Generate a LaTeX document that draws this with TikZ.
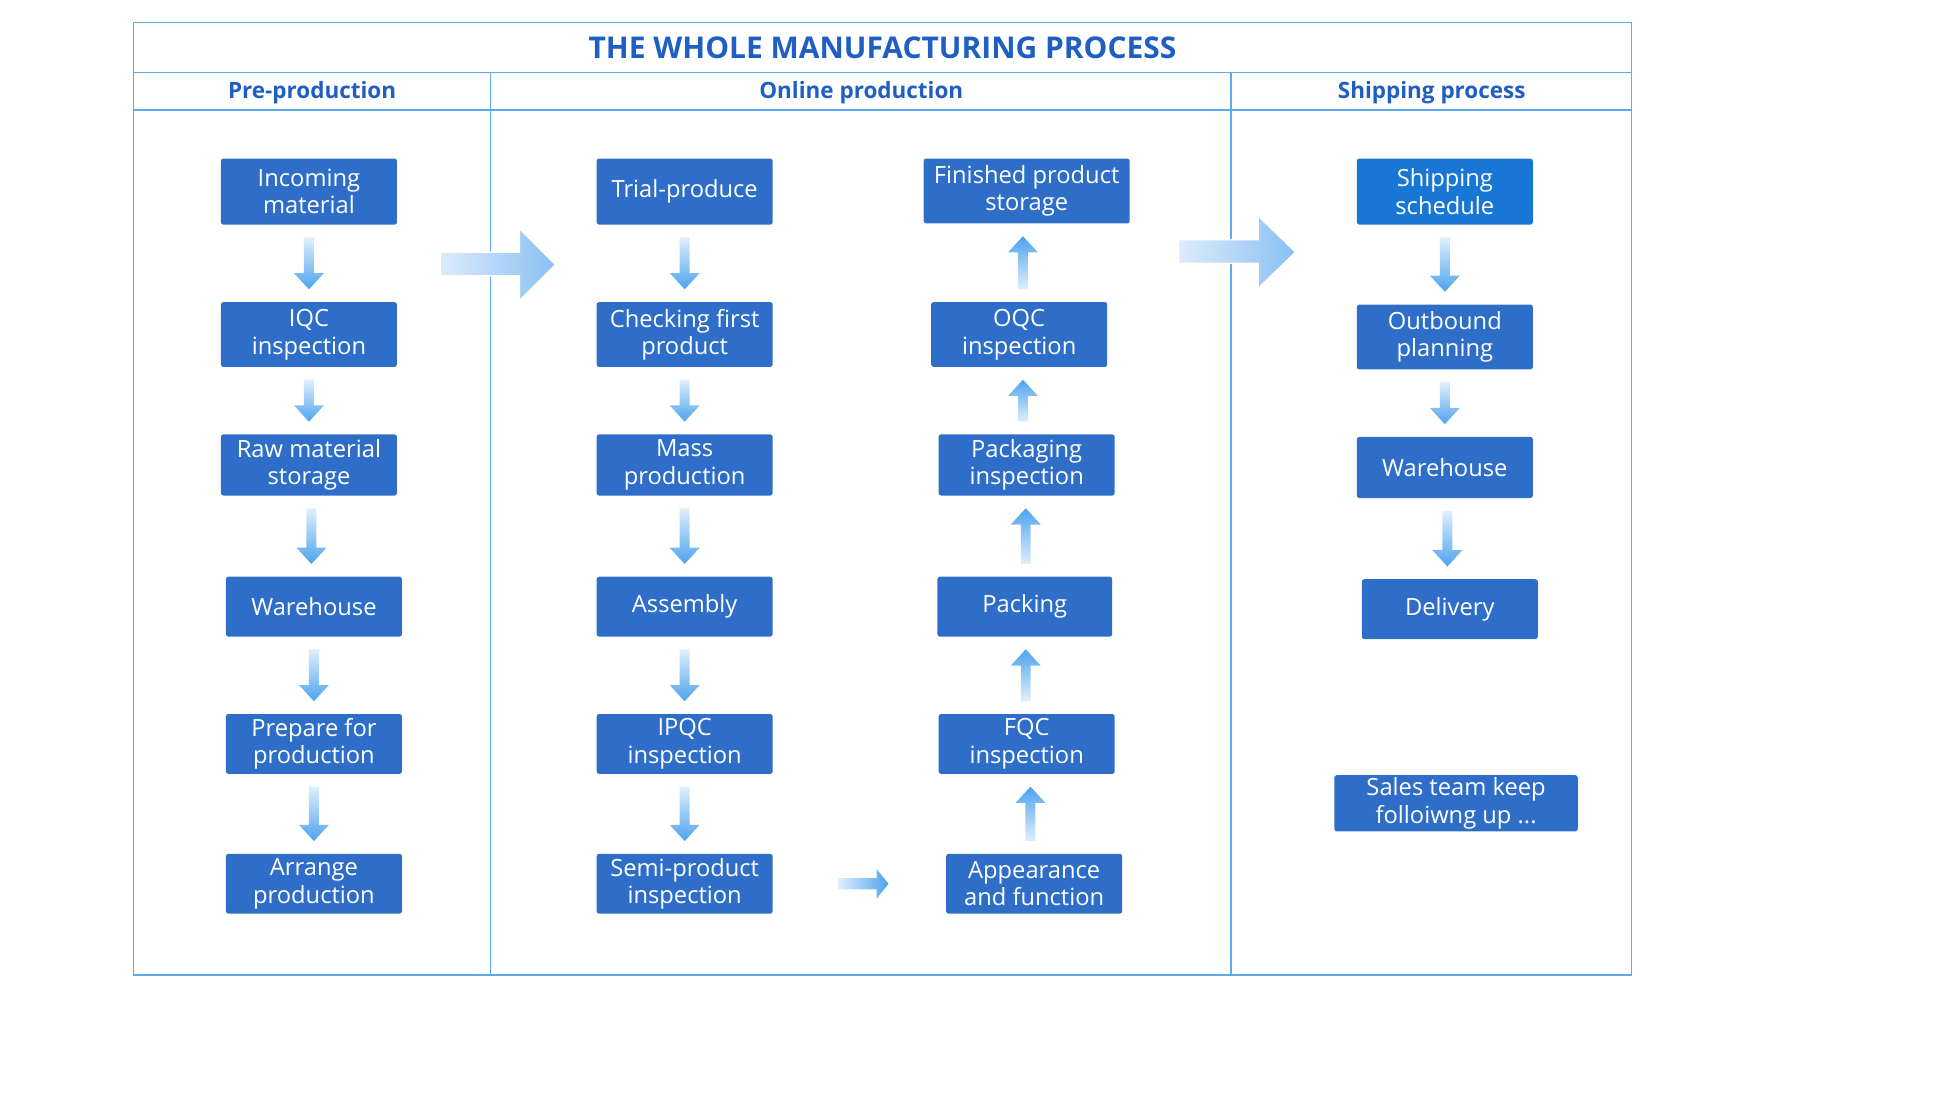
\documentclass[tikz,border=0pt]{standalone}
\usepackage{fontspec}
\setmainfont{Open Sans}
\usetikzlibrary{calc}
\definecolor{boxblue}{HTML}{2E6EC8}
\definecolor{shipblue}{HTML}{1876D4}
\definecolor{framec}{HTML}{5DAAF0}
\definecolor{titlec}{HTML}{1F5EC2}
\definecolor{arlight}{HTML}{E0EFFD}
\definecolor{ardark}{HTML}{4DA3EE}
\definecolor{biglight}{HTML}{DDECFB}
\definecolor{bigdark}{HTML}{88C0F3}
\tikzset{
  box/.style={fill=boxblue, text=white, rounded corners=2pt, minimum width=141pt,
    minimum height=48pt, inner sep=0pt, align=center, font=\fontsize{19}{22}\selectfont},
  frameline/.style={draw=framec, line width=1.2pt},
  titletext/.style={text=titlec, font=\fontsize{24}{27}\selectfont\bfseries},
  headtext/.style={text=titlec, font=\fontsize{18}{21}\selectfont\bfseries},
  bigarrow/.style={left color=biglight, right color=bigdark, draw=white, line width=1.2pt}
}
\newcommand\flowdown[2]{%
  \shade[top color=arlight, bottom color=ardark] let \p1=(#1.south), \p2=(#2.north),
    \p3=($(#1.south)!0.5!(#2.north)$) in
    (\x3-4pt,\y1-10pt) -- (\x3+4pt,\y1-10pt) -- (\x3+4pt,\y2+23pt) -- (\x3+12pt,\y2+23pt)
    -- (\x3,\y2+10pt) -- (\x3-12pt,\y2+23pt) -- (\x3-4pt,\y2+23pt) -- cycle;}
\newcommand\flowup[2]{%
  \shade[top color=ardark, bottom color=arlight] let \p1=(#1.north), \p2=(#2.south),
    \p3=($(#1.north)!0.5!(#2.south)$) in
    (\x3-4pt,\y1+10pt) -- (\x3+4pt,\y1+10pt) -- (\x3+4pt,\y2-23pt) -- (\x3+12pt,\y2-23pt)
    -- (\x3,\y2-10pt) -- (\x3-12pt,\y2-23pt) -- (\x3-4pt,\y2-23pt) -- cycle;}
\begin{document}
\begin{tikzpicture}[x=1pt, y=-1pt]
\useasboundingbox (0,0) rectangle (1567,881);
% frame
\draw[frameline] (107,18) rectangle (1307,781);
\draw[frameline] (107,58) -- (1307,58);
\draw[frameline] (107,88) -- (1307,88);
\draw[frameline] (393,58) -- (393,781);
\draw[frameline] (986,58) -- (986,781);
\node[titletext] (title) at (707,38) {THE WHOLE MANUFACTURING PROCESS};
\node[headtext] (h1) at (250,74.5) {Pre-production};
\node[headtext] (h2) at (690,74.5) {Online production};
\node[headtext] (h3) at (1147,74.5) {Shipping process};
% column 1
\node[box, minimum height=53pt] (inc) at (247.5,153.5) {Incoming\\material};
\node[box, minimum height=52pt] (iqc) at (247.5,268) {IQC\\inspection};
\node[box, minimum height=49pt] (raw) at (247.5,372.5) {Raw material\\storage};
\node[box] (wh1) at (251.5,486) {Warehouse};
\node[box] (prep) at (251.5,596) {Prepare for\\production};
\node[box] (arr) at (251.5,708) {Arrange\\production};
% column 2
\node[box, minimum height=53pt] (trial) at (548.5,153.5) {Trial-produce};
\node[box, minimum height=52pt] (check) at (548.5,268) {Checking first\\product};
\node[box, minimum height=49pt] (mass) at (548.5,372.5) {Mass\\production};
\node[box] (asm) at (548.5,486) {Assembly};
\node[box] (ipqc) at (548.5,596) {IPQC\\inspection};
\node[box] (semi) at (548.5,708) {Semi-product\\inspection};
% column 3
\node[box, minimum width=165pt, minimum height=52pt] (fin) at (822.5,153) {Finished product\\storage};
\node[box, minimum height=52pt] (oqc) at (816.5,268) {OQC\\inspection};
\node[box, minimum height=49pt] (pkgi) at (822.5,372.5) {Packaging\\inspection};
\node[box, minimum width=140pt] (pack) at (821,486) {Packing};
\node[box] (fqc) at (822.5,596) {FQC\\inspection};
\node[box] (app) at (828.5,708) {Appearance\\and function};
% column 4
\node[box, fill=shipblue, minimum height=53pt] (ship) at (1157.5,153.5) {Shipping\\schedule};
\node[box, minimum height=52pt] (outb) at (1157.5,270) {Outbound\\planning};
\node[box, minimum height=49pt] (wh2) at (1157.5,374.5) {Warehouse};
\node[box] (deliv) at (1161.5,488) {Delivery};
\node[box, minimum width=195pt, minimum height=45pt] (sales) at (1166.5,643.5) {Sales team keep\\folloiwng up ...};
% flow arrows
\flowdown{inc}{iqc}
\flowdown{iqc}{raw}
\flowdown{raw}{wh1}
\flowdown{wh1}{prep}
\flowdown{prep}{arr}
\flowdown{trial}{check}
\flowdown{check}{mass}
\flowdown{mass}{asm}
\flowdown{asm}{ipqc}
\flowdown{ipqc}{semi}
\flowup{app}{fqc}
\flowup{fqc}{pack}
\flowup{pack}{pkgi}
\flowup{pkgi}{oqc}
\flowup{oqc}{fin}
\flowdown{ship}{outb}
\flowdown{outb}{wh2}
\flowdown{wh2}{deliv}
% small right arrow
\shade[left color=arlight, right color=ardark] let \p1=(semi.east), \p2=(app.west) in
  (\x1+52pt,\y1-4.5pt) -- (\x1+83pt,\y1-4.5pt) -- (\x1+83pt,\y1-12pt) -- (\x2-46pt,\y1)
  -- (\x1+83pt,\y1+12pt) -- (\x1+83pt,\y1+4.5pt) -- (\x1+52pt,\y1+4.5pt) -- cycle;
% big arrows between stages
\shadedraw[bigarrow] (352.5,202) -- (416,202) -- (416,183) -- (445,212) -- (416,241) -- (416,221) -- (352.5,221) -- cycle;
\shadedraw[bigarrow] (944,192) -- (1008,192) -- (1008,173) -- (1038,202) -- (1008,231) -- (1008,211) -- (944,211) -- cycle;
\end{tikzpicture}
\end{document}
